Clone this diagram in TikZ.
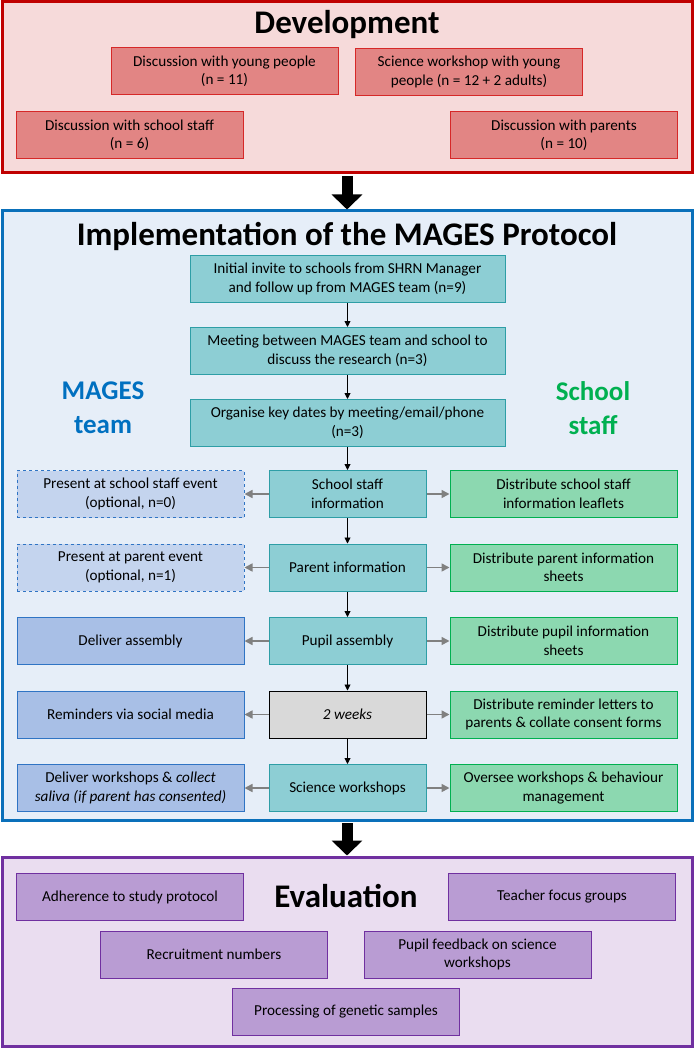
\documentclass[tikz,border=0pt]{standalone}
\usepackage{fontspec}
\setmainfont{Carlito}
\usetikzlibrary{positioning,arrows.meta}

\definecolor{devline}{HTML}{C00000}
\definecolor{devback}{HTML}{F6DADA}
\definecolor{devfill}{HTML}{E28584}
\definecolor{devedge}{HTML}{D62828}
\definecolor{impline}{HTML}{0A70BA}
\definecolor{impback}{HTML}{E6EEF8}
\definecolor{tealfill}{HTML}{8DCED4}
\definecolor{tealedge}{HTML}{2E9EA6}
\definecolor{bluefill}{HTML}{A8BFE6}
\definecolor{lightblue}{HTML}{C4D4EE}
\definecolor{blueedge}{HTML}{2F74C4}
\definecolor{greenfill}{HTML}{8CD8B0}
\definecolor{greenedge}{HTML}{00B050}
\definecolor{evalline}{HTML}{7030A0}
\definecolor{evalback}{HTML}{EADDF0}
\definecolor{evalfill}{HTML}{B99CD3}
\definecolor{mageblue}{HTML}{0070C0}

\begin{document}
\begin{tikzpicture}[x=1pt, y=-1pt,
    panel/.style={draw, line width=3pt, minimum width=690pt, inner sep=0pt},
    box/.style={draw, line width=1pt, align=center, minimum height=47pt, inner sep=1pt,
        font=\fontsize{15.2}{18.5}\selectfont},
    devbox/.style={box, fill=devfill, draw=devedge, minimum width=227pt},
    flowbox/.style={box, fill=tealfill, draw=tealedge, minimum width=315pt},
    midbox/.style={box, fill=tealfill, draw=tealedge, minimum width=157pt},
    teambox/.style={box, fill=bluefill, draw=blueedge, minimum width=227pt},
    optbox/.style={teambox, fill=lightblue, dashed},
    staffbox/.style={box, fill=greenfill, draw=greenedge, minimum width=227pt},
    evalbox/.style={box, fill=evalfill, draw=evalline, minimum width=227pt},
    heading/.style={font=\fontsize{33}{35}\selectfont\bfseries},
    sidehead/.style={align=center, font=\fontsize{27}{34}\selectfont\bfseries},
    flow/.style={-{Triangle[width=6pt,length=6pt]}, line width=0.9pt},
    side/.style={-{Triangle[width=8pt,length=8pt]}, gray, line width=1.6pt},
    bigarrow/.style={-{Triangle[width=30pt,length=15pt]}, line width=11pt, shorten <=1.5pt}]

\useasboundingbox (0,0) rectangle (694,1048);

% panels
\node[panel, draw=devline, fill=devback, minimum height=171pt] (devpanel) at (347,87.5) {};
\node[panel, draw=impline, fill=impback, minimum height=609pt] (implpanel) at (347,515.5) {};
\node[panel, draw=evalline, fill=evalback, minimum height=189pt] (evalpanel) at (347,951.5) {};

\draw[bigarrow] (devpanel.south) -- (implpanel.north);
\draw[bigarrow] (implpanel.south) -- (evalpanel.north);

% development
\node[heading] (devtitle) at (347,25) {Development};
\node[devbox] (youngdisc) at (224.5,71.5) {Discussion with young people\\(n = 11)};
\node[devbox] (sciws) at (469,72) {Science workshop with young\\people (n = 12 + 2 adults)};
\node[devbox] (staffdisc) at (129.5,135.5) {Discussion with school staff\\(n = 6)};
\node[devbox] (parentdisc) at (564,135.5) {Discussion with parents\\(n = 10)};

% implementation
\node[heading] (impltitle) at (347,236) {Implementation of the MAGES Protocol};
\node[flowbox] (invite) at (347.5,279) {Initial invite to schools from SHRN Manager\\and follow up from MAGES team (n=9)};
\node[flowbox, below=24pt of invite] (meeting) {Meeting between MAGES team and school to\\discuss the research (n=3)};
\node[flowbox, below=24pt of meeting] (dates) {Organise key dates by meeting/email/phone\\(n=3)};

\node[sidehead, text=mageblue] (teamhead) at (103,408) {MAGES\\team};
\node[sidehead, text=greenedge] (staffhead) at (593,408) {School\\staff};

\node[midbox, below=23pt of dates] (staffinfo) {School staff\\information};
\node[midbox, below=25.5pt of staffinfo] (parentinfo) {Parent information};
\node[midbox, below=25.5pt of parentinfo] (assembly) {Pupil assembly};
\node[midbox, below=25.5pt of assembly, fill=black!15, draw=black, font=\fontsize{15.2}{18.5}\selectfont\itshape] (wait) {2 weeks};
\node[midbox, below=25.5pt of wait] (workshops) {Science workshops};

\node[optbox, left=24pt of staffinfo] (staffevent) {Present at school staff event\\(optional, n=0)};
\node[optbox, left=24pt of parentinfo] (parentevent) {Present at parent event\\(optional, n=1)};
\node[teambox, left=24pt of assembly] (deliver) {Deliver assembly};
\node[teambox, left=24pt of wait] (social) {Reminders via social media};
\node[teambox, left=24pt of workshops] (saliva) {Deliver workshops \& \textit{collect}\\\textit{saliva (if parent has consented)}};

\node[staffbox, right=23pt of staffinfo] (leaflets) {Distribute school staff\\information leaflets};
\node[staffbox, right=23pt of parentinfo] (sheets) {Distribute parent information\\sheets};
\node[staffbox, right=23pt of assembly] (pupilsheets) {Distribute pupil information\\sheets};
\node[staffbox, right=23pt of wait] (letters) {Distribute reminder letters to\\parents \& collate consent forms};
\node[staffbox, right=23pt of workshops] (oversee) {Oversee workshops \& behaviour\\management};

\draw[flow] (invite) -- (meeting);
\draw[flow] (meeting) -- (dates);
\draw[flow] (dates) -- (staffinfo);
\draw[flow] (staffinfo) -- (parentinfo);
\draw[flow] (parentinfo) -- (assembly);
\draw[flow] (assembly) -- (wait);
\draw[flow] (wait) -- (workshops);

\foreach \mid/\lft/\rgt in {staffinfo/staffevent/leaflets, parentinfo/parentevent/sheets,
    assembly/deliver/pupilsheets, wait/social/letters, workshops/saliva/oversee}{
  \draw[side] (\mid.west) -- (\lft.east);
  \draw[side] (\mid.east) -- (\rgt.west);
}

% evaluation
\node[heading] (evaltitle) at (346,896) {Evaluation};
\node[evalbox] (adherence) at (130,897) {Adherence to study protocol};
\node[evalbox] (focus) at (562,897) {Teacher focus groups};
\node[evalbox] (recruit) at (214,954.5) {Recruitment numbers};
\node[evalbox] (feedback) at (477.5,954.5) {Pupil feedback on science\\workshops};
\node[evalbox] (genetic) at (346,1012) {Processing of genetic samples};

\end{tikzpicture}
\end{document}
